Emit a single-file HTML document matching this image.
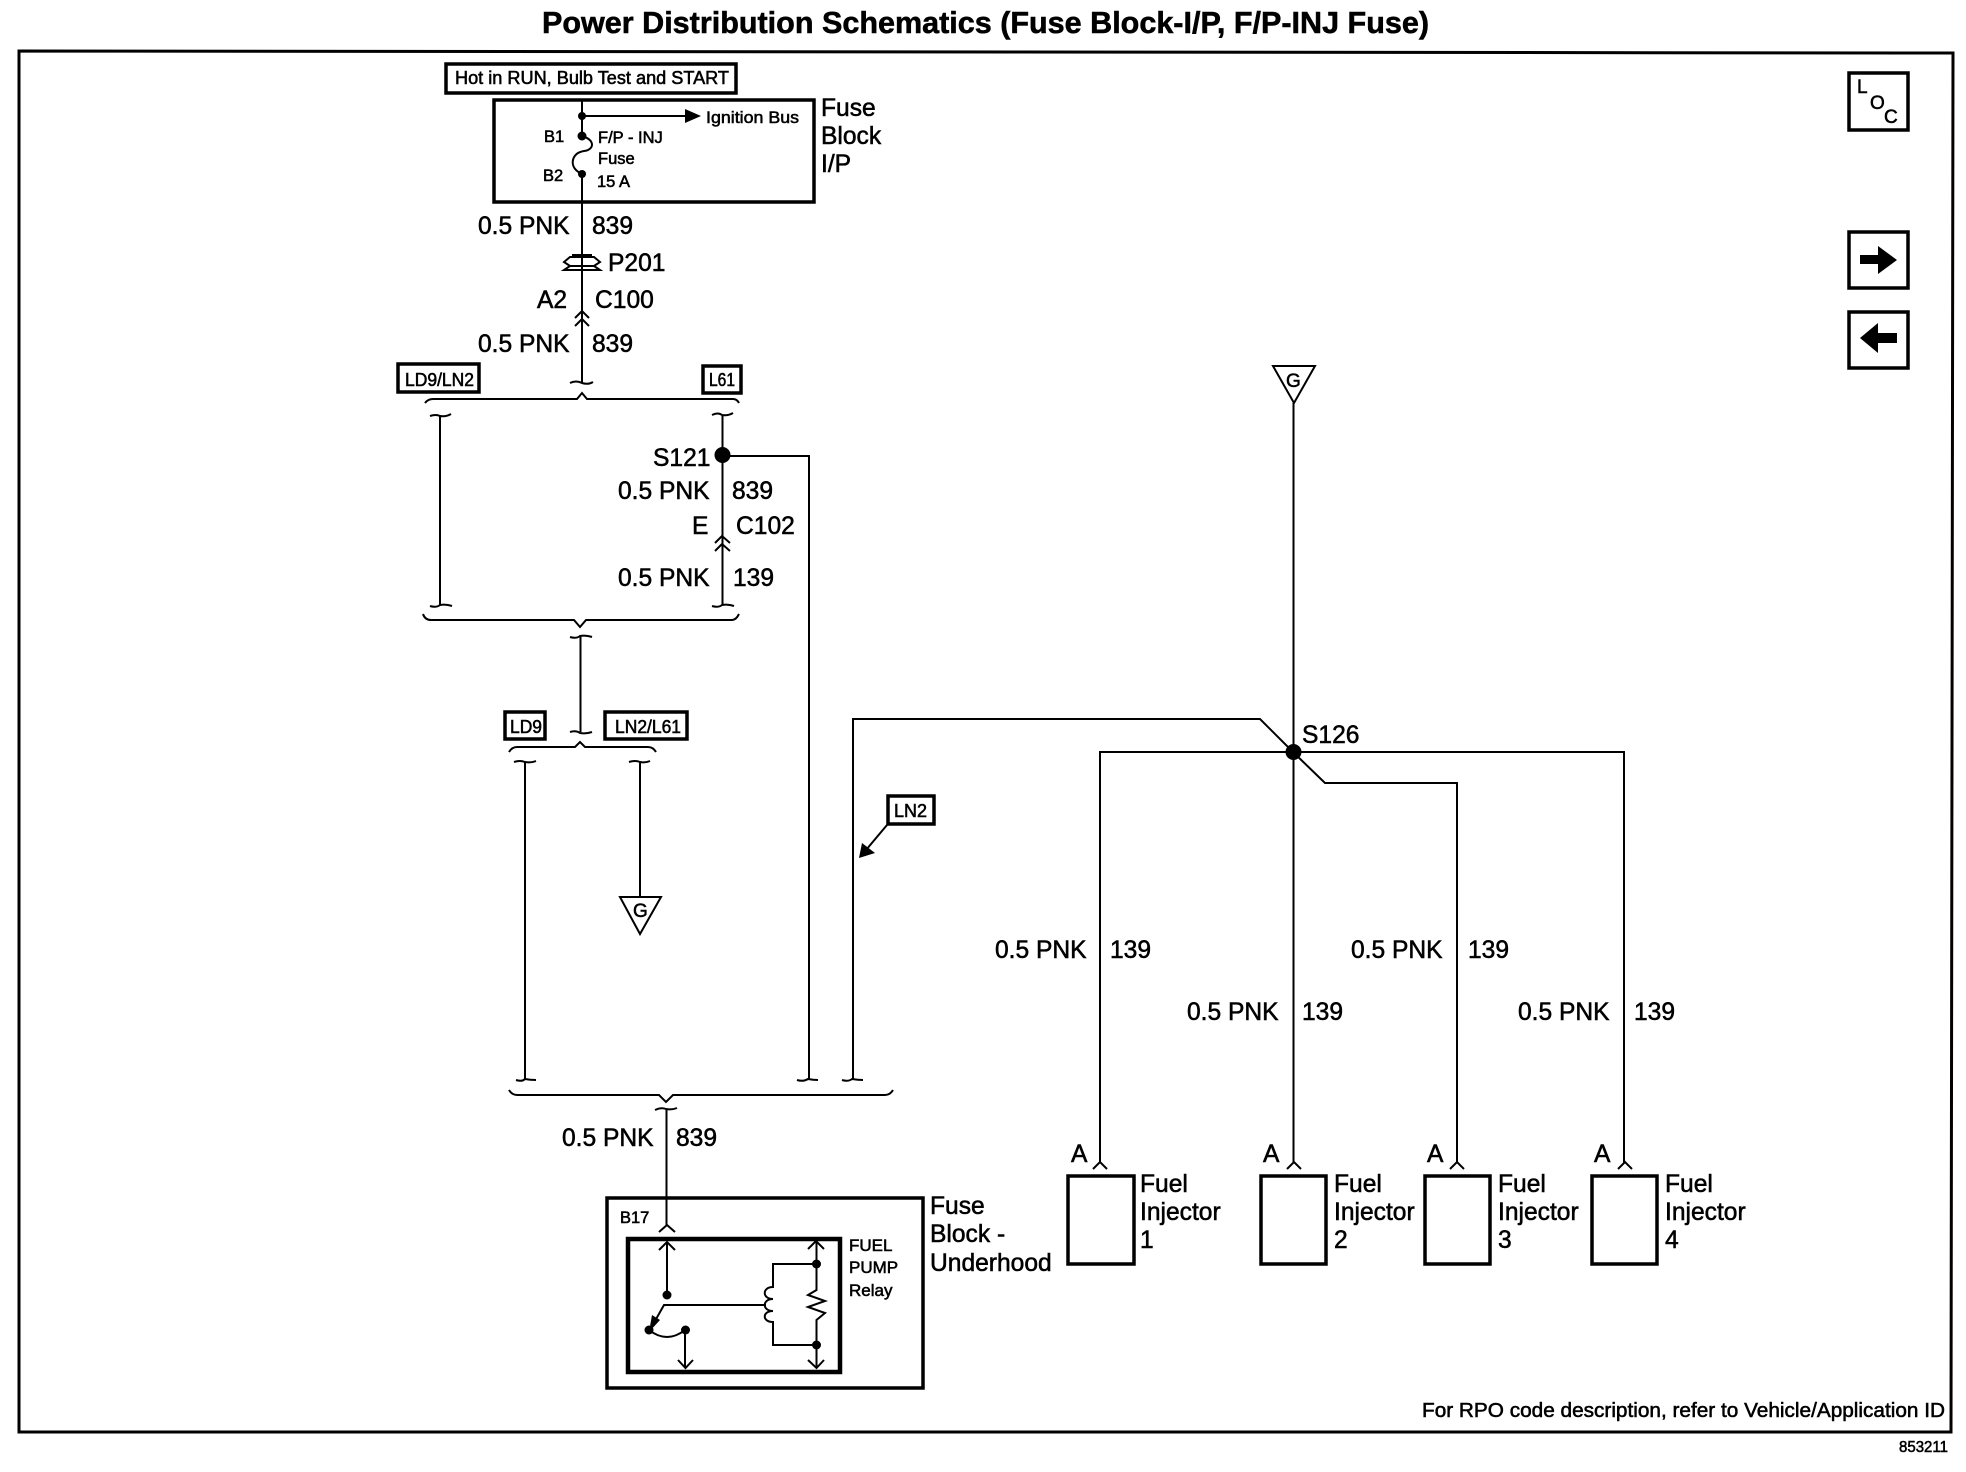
<!DOCTYPE html>
<html><head><meta charset="utf-8"><style>
html,body{margin:0;padding:0;background:#fff}
svg{display:block}
text{font-family:"Liberation Sans",sans-serif;fill:#000;stroke:#000;stroke-width:.55}
.w{fill:none;stroke:#000;stroke-width:2}
.b{fill:none;stroke:#000;stroke-width:3.5}
.s{font-size:24.6px}
.m{font-size:17px}
</style></head><body>
<svg width="1966" height="1472" viewBox="0 0 1966 1472" xmlns="http://www.w3.org/2000/svg">
<text x="542" y="33" font-size="31" font-weight="bold" textLength="887" lengthAdjust="spacingAndGlyphs">Power Distribution Schematics (Fuse Block-I/P, F/P-INJ Fuse)</text>
<path class="w" style="stroke-width:3" d="M19 51 L1953 53 L1951 1432 L19 1432 Z"/>

<!-- top -->
<rect class="b" x="446" y="64" width="290" height="29"/>
<text x="455" y="84" font-size="18" textLength="274" lengthAdjust="spacingAndGlyphs">Hot in RUN, Bulb Test and START</text>
<rect class="b" x="494" y="100" width="320" height="102"/>
<path class="w" d="M582 99V136M582 174V383M582 116H690"/>
<path d="M685 109L701 116L685 123Z"/>
<circle cx="582" cy="116" r="4"/><circle cx="582" cy="136" r="4.5"/><circle cx="582" cy="174" r="4"/>
<path class="w" d="M582 136C596 140 594 150 584 151C572 153 570 164 576 170L582 175"/>
<text x="706" y="123" class="m" textLength="93" lengthAdjust="spacingAndGlyphs">Ignition Bus</text>
<text x="544" y="142" font-size="16.500">B1</text><text x="543" y="181" font-size="16.500">B2</text>
<text x="598" y="143" font-size="16.500">F/P - INJ</text><text x="598" y="164" font-size="16.5">Fuse</text><text x="597" y="187" font-size="16.5">15 A</text>
<text x="821" y="116" class="s">Fuse</text><text x="821" y="144" class="s">Block</text><text x="821" y="172" class="s">I/P</text>

<text x="478" y="234" class="s">0.5 PNK</text><text x="592" y="234" class="s">839</text>
<path class="w" d="M570 257H594L600 262L594 266H570L564 262ZM570 266L564 270H600L594 266M572 255H592"/>
<text x="608" y="271" class="s">P201</text>
<text x="537" y="308" class="s">A2</text><text x="595" y="308" class="s">C100</text>
<path class="w" d="M575 318L582 311L589 318M575 326L582 319L589 326"/>
<text x="478" y="352" class="s">0.5 PNK</text><text x="592" y="352" class="s">839</text>

<rect class="b" x="398" y="364" width="81" height="28"/>
<text x="405" y="386" font-size="18" textLength="69" lengthAdjust="spacingAndGlyphs">LD9/LN2</text>
<rect class="b" x="703" y="366" width="38" height="27"/>
<text x="709" y="386" font-size="18" textLength="26" lengthAdjust="spacingAndGlyphs">L61</text>

<path class="w" d="M570 383Q576 380 582 383Q588 385 593 382"/>
<path class="w" d="M425 403Q428 399 433 399H577L582 393L587 399H733Q737 399 739 403"/>
<path class="w" d="M430 416Q436 414 440 416Q446 417 451 414M440 416V605M430 606Q436 608 440 605Q446 604 452 606"/>
<path class="w" d="M712 415Q718 412 722 415Q728 416 733 413M722.500 415V605M712 606Q718 608 722 605Q728 604 734 606"/>
<circle cx="722.500" cy="455" r="8"/>
<path class="w" d="M722 456H809V1080"/>
<text x="653" y="466" class="s">S121</text>
<text x="618" y="499" class="s">0.5 PNK</text><text x="732" y="499" class="s">839</text>
<text x="692" y="534" class="s">E</text><text x="736" y="534" class="s">C102</text>
<path class="w" d="M715 543L722 536L730 543M715 551L722 544L730 551"/>
<text x="618" y="586" class="s">0.5 PNK</text><text x="733" y="586" class="s">139</text>

<path class="w" d="M423 614Q425 620 431 620H574L580 627L586 620H732Q736 620 739 614"/>
<path class="w" d="M570 637Q576 639 580 636Q586 635 592 637M580.500 636V732M570 732Q576 730 580 733Q586 734 592 732"/>
<rect class="b" x="505" y="712" width="40" height="27"/>
<text x="510" y="733" font-size="18" textLength="32" lengthAdjust="spacingAndGlyphs">LD9</text>
<rect class="b" x="605" y="712" width="82" height="27"/>
<text x="615" y="733" font-size="18" textLength="66" lengthAdjust="spacingAndGlyphs">LN2/L61</text>
<path class="w" d="M509 752Q512 747 517 747H575L580 742L585 747H648Q653 747 656 752"/>
<path class="w" d="M514 762Q520 760 525 762Q531 763 536 761M525 762V1080M516 1080Q522 1082 525 1079Q530 1080 536 1080"/>
<path class="w" d="M629 762Q635 760 640 762Q645 763 650 761M640 762V897"/>
<path class="w" d="M620 897H661L640 934Z"/>
<text x="633" y="917" font-size="19">G</text>
<path class="w" d="M797 1080Q803 1082 808 1079Q813 1080 818 1080"/>

<!-- LN2 -->
<path class="w" d="M853 1079V719H1260L1293 752L1325 783H1457V1163"/>
<path class="w" d="M842 1080Q848 1082 852 1079Q858 1080 863 1080"/>
<rect class="b" x="888" y="796" width="46" height="28"/>
<text x="894" y="817" font-size="18" textLength="33" lengthAdjust="spacingAndGlyphs">LN2</text>
<path class="w" d="M887 825L866 850"/>
<path d="M859 858L862 843L875 853Z"/>

<path class="w" d="M509 1090Q512 1095 517 1095H659L666 1102L673 1095H885Q890 1095 893 1090"/>
<path class="w" d="M655 1110Q661 1107 666 1109Q672 1110 677 1108M666.500 1109V1225"/>
<text x="562" y="1146" class="s">0.5 PNK</text><text x="676" y="1146" class="s">839</text>

<!-- underhood -->
<rect class="b" x="607" y="1198" width="316" height="190"/>
<text x="620" y="1223" font-size="16.500">B17</text>
<path class="w" d="M659 1232L667 1225L675 1232"/>
<rect x="628" y="1239" width="212" height="133" fill="none" stroke="#000" stroke-width="4.5"/>
<path class="w" d="M659 1250L667 1242L675 1250M667 1242V1295"/>
<circle cx="667" cy="1295" r="4.500"/>
<path class="w" d="M808 1249L816 1241L824 1249M816.500 1241V1290L808 1295L825 1301L808 1307L825 1313L816.500 1320V1367M808 1360L816.500 1368L824 1360"/>
<circle cx="816.500" cy="1264" r="4.500"/><circle cx="816.500" cy="1345" r="4.500"/>
<path class="w" d="M816 1264H773V1287C762 1287 762 1299 773 1299C762 1299 762 1311 773 1311C762 1311 762 1322 773 1322V1345H816"/>
<path class="w" d="M766 1305H664L651 1328"/>
<path d="M649 1332L652 1315L660 1320Z"/>
<circle cx="649" cy="1330" r="4.500"/><circle cx="685.500" cy="1330" r="4.500"/>
<path class="w" d="M649 1330Q667 1344 685 1330V1368M678 1360L685.500 1368L693 1360"/>
<text x="849" y="1251" class="m">FUEL</text><text x="849" y="1273" class="m">PUMP</text><text x="849" y="1296" class="m">Relay</text>
<text x="930" y="1214" class="s">Fuse</text><text x="930" y="1242" class="s">Block -</text><text x="930" y="1271" class="s">Underhood</text>

<!-- G / S126 -->
<path class="w" d="M1273 366H1315L1294 403Z"/>
<text x="1286" y="387" font-size="19">G</text>
<path class="w" d="M1293.500 403V1163M1100 1163V752H1624V1163"/>
<circle cx="1293.500" cy="752" r="8"/>
<text x="1302" y="743" class="s">S126</text>
<text x="995" y="958" class="s">0.5 PNK</text><text x="1110" y="958" class="s">139</text>
<text x="1351" y="958" class="s">0.5 PNK</text><text x="1468" y="958" class="s">139</text>
<text x="1187" y="1020" class="s">0.5 PNK</text><text x="1302" y="1020" class="s">139</text>
<text x="1518" y="1020" class="s">0.5 PNK</text><text x="1634" y="1020" class="s">139</text>

<!-- injectors -->
<path class="w" d="M1093 1169L1100 1162L1107 1169M1287 1169L1294 1162L1301 1169M1450 1169L1457 1162L1464 1169M1618 1169L1625 1162L1632 1169"/>
<rect class="b" x="1068" y="1176" width="66" height="88"/>
<rect class="b" x="1261" y="1176" width="65" height="88"/>
<rect class="b" x="1425" y="1176" width="65" height="88"/>
<rect class="b" x="1592" y="1176" width="65" height="88"/>
<text x="1071" y="1162" class="s">A</text><text x="1263" y="1162" class="s">A</text><text x="1427" y="1162" class="s">A</text><text x="1594" y="1162" class="s">A</text>
<text x="1140" y="1192" class="s">Fuel</text><text x="1140" y="1220" class="s">Injector</text><text x="1140" y="1248" class="s">1</text>
<text x="1334" y="1192" class="s">Fuel</text><text x="1334" y="1220" class="s">Injector</text><text x="1334" y="1248" class="s">2</text>
<text x="1498" y="1192" class="s">Fuel</text><text x="1498" y="1220" class="s">Injector</text><text x="1498" y="1248" class="s">3</text>
<text x="1665" y="1192" class="s">Fuel</text><text x="1665" y="1220" class="s">Injector</text><text x="1665" y="1248" class="s">4</text>

<text x="1422" y="1417" font-size="20.500" textLength="523" lengthAdjust="spacingAndGlyphs">For RPO code description, refer to Vehicle/Application ID</text>
<text x="1899" y="1452" font-size="16" textLength="49" lengthAdjust="spacingAndGlyphs">853211</text>

<!-- nav -->
<rect class="b" x="1849" y="73" width="59" height="57"/>
<text x="1857" y="93" font-size="19">L</text><text x="1870" y="109" font-size="19">O</text><text x="1884" y="123" font-size="19">C</text>
<rect class="b" x="1849" y="232" width="59" height="56"/>
<path d="M1860 255H1878V246L1897 260L1878 274V264H1860Z"/>
<rect class="b" x="1849" y="312" width="59" height="56"/>
<path d="M1897 333H1878V323L1860 338L1878 353V343H1897Z"/>
</svg>
</body></html>
